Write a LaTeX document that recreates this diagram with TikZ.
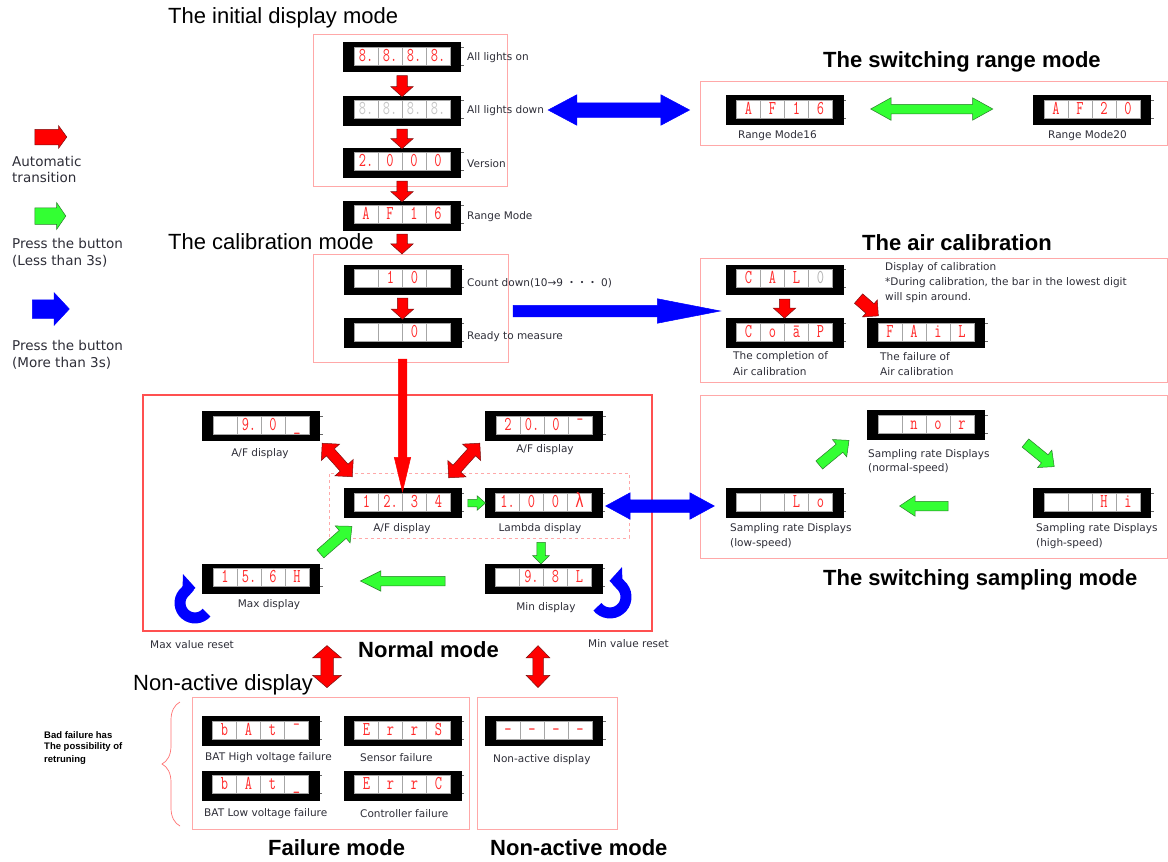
\documentclass[tikz,border=0pt]{standalone}
\usepackage{graphicx}
\usepackage{fontspec}
\setmainfont{DejaVu Sans}
\newfontfamily\arial{Liberation Sans}
\newfontfamily\jpf{Noto Sans CJK JP}
\newfontfamily\dvm{DejaVu Sans Mono}
\usetikzlibrary{shapes.arrows,calc,decorations.pathreplacing,arrows.meta}
\definecolor{pinkline}{HTML}{FFA8A8}
\definecolor{redline}{HTML}{FF5050}
\definecolor{segred}{HTML}{FF2A2A}
\definecolor{labgray}{HTML}{2E2E38}
\definecolor{rd}{HTML}{FF0000}
\definecolor{rdo}{HTML}{7A1010}
\definecolor{gn}{HTML}{33FF33}
\definecolor{gno}{HTML}{2A7A2A}
\definecolor{bl}{HTML}{0000FF}
\newcommand\sg[1]{\scalebox{1}[1.4]{\fontsize{14}{14}\selectfont\ttfamily #1}}
\newcommand\disp[8][segred]{%
  \node[dispbox] (#2) at (#3,#4) {};
  \node[cell,text=#1] (#2a) at ($(#2.center)+(-36,-1)$) {\sg{#5}};
  \node[cell,text=#1] (#2b) at ($(#2.center)+(-12,-1)$) {\sg{#6}};
  \node[cell,text=#1] (#2c) at ($(#2.center)+(12,-1)$) {\sg{#7}};
  \node[cell,text=#1] (#2d) at ($(#2.center)+(36,-1)$) {\sg{#8}};
  \draw[black!60,line width=0.4pt] ($(#2.east)+(0,-10)$) -- ++(2.5,0) ($(#2.east)+(0,8)$) -- ++(2.5,0);
}
\newcommand\farrow[4]{\path let \p1=#3, \p2=#4, \n1={atan2(\y2-\y1,\x2-\x1)}, \n2={veclen(\x2-\x1,\y2-\y1)} in node[#2, rotate=\n1, minimum height=\n2] (#1) at ($(\p1)!0.5!(\p2)$) {};}
\tikzset{
  dispbox/.style={rectangle, fill=black, minimum width=118pt, minimum height=30pt, inner sep=0pt},
  cell/.style={rectangle, draw=gray!70, fill=white, line width=0.6pt, minimum width=24pt, minimum height=18pt, inner sep=0pt, text height=12pt, text depth=1.5pt},
  modebox/.style={rectangle, draw=pinkline, line width=0.8pt, inner sep=0pt},
  lab/.style={font=\fontsize{10.5}{12}\selectfont, text=labgray, inner sep=0pt, anchor=west},
  clab/.style={font=\fontsize{10.5}{12}\selectfont, text=labgray, inner sep=0pt},
  leg/.style={font=\fontsize{13.5}{16}\selectfont, text=labgray, inner sep=0pt, anchor=west},
  ttl/.style={font=\arial\fontsize{22}{26}\selectfont, inner sep=0pt, anchor=west},
  btl/.style={font=\arial\bfseries\fontsize{22}{26}\selectfont, inner sep=0pt, anchor=west},
  sa/.style n args={5}{single arrow, fill=#1, draw=#2, line width=0.5pt, inner xsep=0pt, inner ysep=0.5*#3, minimum width=0pt, single arrow head extend=#4, single arrow tip angle=#5},
  da/.style n args={5}{double arrow, fill=#1, draw=#2, line width=0.5pt, inner xsep=0pt, inner ysep=0.5*#3, minimum width=0pt, double arrow head extend=#4, double arrow tip angle=#5},
  redsmall/.style={sa={rd}{rdo}{10pt}{6pt}{96}},
  redbig/.style={sa={rd}{rd}{8pt}{4pt}{27}},
  curv/.style={bl, line width=11pt, -{Triangle[width=26pt,length=13pt]}},
}
\begin{document}
\begin{tikzpicture}[x=1pt,y=-1pt]
\fill[white] (0,0) rectangle (1168,862);
\useasboundingbox (0,0) rectangle (1168,862);

% ---------- mode boxes ----------
\node[modebox, minimum width=194pt, minimum height=152pt] (initbox) at (410,110) {};
\node[modebox, minimum width=195pt, minimum height=108pt] (calbox) at (410.5,308) {};
\node[modebox, minimum width=467pt, minimum height=64pt] (rangebox) at (933.5,113) {};
\node[modebox, minimum width=467pt, minimum height=124pt] (airbox) at (933.5,320) {};
\node[rectangle, draw=redline, line width=1.2pt, inner sep=0pt, minimum width=509pt, minimum height=236pt] (normbox) at (397.5,513) {};
\node[rectangle, draw=pinkline, dashed, line width=0.7pt, inner sep=0pt, minimum width=300pt, minimum height=65pt] (dashbox) at (479,505.5) {};
\node[modebox, minimum width=467pt, minimum height=163pt] (sampbox) at (933.5,476.5) {};
\node[modebox, minimum width=277pt, minimum height=132pt] (failbox) at (330.5,763) {};
\node[modebox, minimum width=140pt, minimum height=132pt] (nabox) at (547,763) {};

% ---------- titles ----------
\node[ttl] (T1) at (168,18) {The initial display mode};
\node[ttl] (T2) at (168,242) {The calibration mode};
\node[btl] (T3) at (823,62) {The switching range mode};
\node[btl] (T4) at (862,243) {The air calibration};
\node[btl] (T5) at (823,580) {The switching sampling mode};
\node[btl] (T6) at (358,650) {Normal mode};
\node[ttl] (T7) at (133,685) {Non-active display};
\node[btl] (T8) at (268,848) {Failure mode};
\node[btl] (T9) at (490,848) {Non-active mode};

% ---------- legend ----------
\coordinate (lr1) at (32,137); \coordinate (lr2) at (64,137);
\coordinate (lg1) at (32,216); \coordinate (lg2) at (63,216);
\coordinate (lb1) at (28,309); \coordinate (lb2) at (65,309);
\farrow{legr}{sa={rd}{rdo}{15pt}{3.5pt}{108}}{(lr1)}{(lr2)}
\farrow{legg}{sa={gn}{gno}{16pt}{5pt}{111}}{(lg1)}{(lg2)}
\farrow{legb}{sa={bl}{bl}{18pt}{7pt}{94}}{(lb1)}{(lb2)}
\node[leg] (L1) at (12,161) {Automatic};
\node[leg] (L2) at (12,177) {transition};
\node[leg] (L3) at (12,243) {Press the button};
\node[leg] (L4) at (12,261) {(Less than 3s)};
\node[leg] (L5) at (12,345) {Press the button};
\node[leg] (L6) at (12,363) {(More than 3s)};

% ---------- displays ----------
\disp{d1}{402}{57}{8.}{8.}{8.}{8.}
\disp[gray!45]{d2}{402}{110.5}{8.}{8.}{8.}{8.}
\disp{d3}{402}{162.5}{2.}{0}{0}{0}
\disp{d4}{402}{215.5}{A}{F}{1}{6}
\disp{d5}{402.5}{279.5}{}{1}{0}{}
\disp{d6}{402.5}{333}{}{}{0}{}
\disp{r16}{784.5}{110}{A}{F}{1}{6}
\disp{r20}{1092}{110}{A}{F}{2}{0}
\disp{cal}{784.5}{279.5}{C}{A}{L}{{\color{gray!60}0}}
\disp{comp}{784.5}{333}{C}{o}{ā}{P}
\disp{fail}{926}{333}{F}{A}{i}{L}
\disp{n1}{261}{426}{}{9.}{0}{\_}
\disp{n2}{544}{426}{2}{0.}{0}{¯}
\disp{af}{402.5}{503}{1}{2.}{3}{4}
\disp{lam}{543.5}{503}{1.}{0}{0}{{\dvm λ}}
\disp{mx}{261}{578.5}{1}{5.}{6}{H}
\disp{mn}{543.5}{578.5}{}{9.}{8}{L}
\disp{nor}{926}{425}{}{n}{o}{r}
\disp{lo}{784.5}{503}{}{}{L}{o}
\disp{hi}{1092}{503}{}{}{H}{i}
\disp{bh}{260.5}{731}{b}{A}{t}{¯}
\disp{es}{402.5}{731}{E}{r}{r}{S}
\disp{bl}{260.5}{785.5}{b}{A}{t}{\_}
\disp{ec}{402.5}{785.5}{E}{r}{r}{C}
\disp{na}{544}{731}{-}{-}{-}{-}

% ---------- labels ----------
\node[lab] (l1) at (467,58) {All lights on};
\node[lab] (l2) at (467,111) {All lights down};
\node[lab] (l3) at (467,164) {Version};
\node[lab] (l4) at (467,217) {Range Mode};
\node[lab] (l5) at (467,283) {Count down(10→9 {\jpf ・・・} 0)};
\node[lab] (l6) at (467,337) {Ready to measure};
\node[lab] (l7) at (738,136) {Range Mode16};
\node[lab] (l8) at (1048,136) {Range Mode20};
\node[lab] (l9) at (885,268) {Display of calibration};
\node[lab] (l10) at (885,283) {*During calibration, the bar in the lowest digit};
\node[lab] (l11) at (885,298) {will spin around.};
\node[lab] (l12) at (733,357) {The completion of};
\node[lab] (l13) at (733,372) {Air calibration};
\node[lab] (l14) at (880,357) {The failure of};
\node[lab] (l15) at (880,372) {Air calibration};
\node[clab] (l16) at (260,454) {A/F display};
\node[clab] (l17) at (545,450) {A/F display};
\node[clab] (l18) at (402,529) {A/F display};
\node[clab] (l19) at (540,529) {Lambda display};
\node[clab] (l20) at (269,605) {Max display};
\node[clab] (l21) at (546,608) {Min display};
\node[lab] (l22) at (150,645) {Max value reset};
\node[lab] (l23) at (588,644) {Min value reset};
\node[lab] (l24) at (868,455) {Sampling rate Displays};
\node[lab] (l25) at (868,469) {(normal-speed)};
\node[lab] (l26) at (730,529) {Sampling rate Displays};
\node[lab] (l27) at (730,544) {(low-speed)};
\node[lab] (l28) at (1036,529) {Sampling rate Displays};
\node[lab] (l29) at (1036,544) {(high-speed)};
\node[lab] (l30) at (205,758) {BAT High voltage failure};
\node[lab] (l31) at (360,758) {Sensor failure};
\node[lab] (l32) at (204,814) {BAT Low voltage failure};
\node[lab] (l33) at (360,814) {Controller failure};
\node[lab] (l34) at (493,760) {Non-active display};

% ---------- arrows ----------
\farrow{a1}{redsmall}{($(d1.south)+(0,1)$)}{($(d2.north)+(0,-1)$)}
\farrow{a2}{redsmall}{($(d2.south)+(0,1)$)}{($(d3.north)+(0,-1)$)}
\farrow{a3}{redsmall}{($(d3.south)+(0,1)$)}{($(d4.north)+(0,-1)$)}
\farrow{a4}{redsmall}{($(d4.south)+(0,1)$)}{($(calbox.north)+(-8.5,-2)$)}
\farrow{a5}{redsmall}{($(d5.south)+(0,1)$)}{($(d6.north)+(0,-1)$)}
\farrow{a6}{redbig}{($(d6.south)+(0,2)$)}{($(af.north)+(0,-5)$)}
\farrow{g1}{da={gn}{gno}{9pt}{6.5pt}{58}}{($(r16.east)+(27,-1)$)}{($(r20.west)+(-40,-1)$)}
\farrow{b1}{da={bl}{bl}{14pt}{8pt}{56}}{($(l2.east)+(4,-1)$)}{($(rangebox.west)+(-10,-3)$)}
\farrow{a7}{redsmall}{($(cal.south)+(0,2)$)}{($(comp.north)+(0,-2)$)}
\farrow{a8}{sa={rd}{rdo}{12pt}{5pt}{90}}{($(cal.east)+(12.5,17)$)}{($(fail.north)+(-50,-4)$)}
\farrow{b2}{sa={bl}{bl}{11pt}{6.5pt}{22}}{($(calbox.east)+(-10,3)$)}{($(airbox.west)+(6,-9)$)}
\farrow{r1}{da={rd}{rdo}{10pt}{7pt}{90}}{($(n1.south east)+(2,2)$)}{($(af.north west)+(9,-11)$)}
\farrow{r2}{da={rd}{rdo}{10pt}{7pt}{90}}{($(n2.south west)+(-5,2)$)}{($(af.north east)+(-13,-10)$)}
\farrow{g2}{sa={gn}{gno}{7pt}{3.5pt}{82}}{($(af.east)+(4,0)$)}{($(lam.west)+(-1,0)$)}
\farrow{g3}{sa={gn}{gno}{8pt}{4pt}{90}}{($(lam.south)+(-2.5,22)$)}{($(mn.north)+(-2.5,-1.5)$)}
\farrow{g4}{sa={gn}{gno}{9pt}{5.5pt}{53}}{($(mn.west)+(-34.5,2.5)$)}{($(mx.east)+(45,2.5)$)}
\farrow{g5}{sa={gn}{gno}{10pt}{6pt}{85}}{($(mx.north east)+(-2,-7.5)$)}{($(af.south west)+(6.5,10)$)}
\farrow{b3}{da={bl}{bl}{12pt}{7pt}{57}}{($(lam.east)+(3,3)$)}{($(lo.west)+(-11,3)$)}
\farrow{g6}{sa={gn}{gno}{10pt}{6pt}{85}}{($(lo.north)+(32.5,-21)$)}{($(nor.south west)+(-20,2)$)}
\farrow{g7}{sa={gn}{gno}{10pt}{6pt}{85}}{($(nor.south east)+(38,1)$)}{($(hi.north)+(-40,-23)$)}
\farrow{g8}{sa={gn}{gno}{9pt}{5.5pt}{67}}{($(hi.west)+(-81,3)$)}{($(lo.east)+(59.5,3)$)}
\farrow{r3}{da={rd}{rdo}{12pt}{8pt}{99}}{($(normbox.south)+(-70.5,14)$)}{($(failbox.north)+(-3.5,-9)$)}
\farrow{r4}{da={rd}{rdo}{10pt}{6.5pt}{88}}{($(normbox.south)+(140.5,14)$)}{($(nabox.north)+(-9,-9)$)}
\coordinate (cl) at (206.5,612.6);
\draw[curv] (cl) arc[start angle=40, end angle=272, radius=15];
\coordinate (cr) at (597.4,606.8);
\draw[curv] (cr) arc[start angle=142, end angle=-92, radius=16];

% ---------- brace and note ----------
\coordinate (brb) at (180,826); \coordinate (brt) at (180,702);
\draw[redline!80, line width=0.7pt, decorate, decoration={brace, amplitude=18pt}] (brb) -- (brt);
\node[font=\arial\bfseries\fontsize{9.5}{12}\selectfont, inner sep=0pt, anchor=west] (B1) at (44,735) {Bad failure has};
\node[font=\arial\bfseries\fontsize{9.5}{12}\selectfont, inner sep=0pt, anchor=west] (B2) at (44,747.5) {The possibility of};
\node[font=\arial\bfseries\fontsize{9.5}{12}\selectfont, inner sep=0pt, anchor=west] (B3) at (44,760) {retruning};
\end{tikzpicture}
\end{document}
